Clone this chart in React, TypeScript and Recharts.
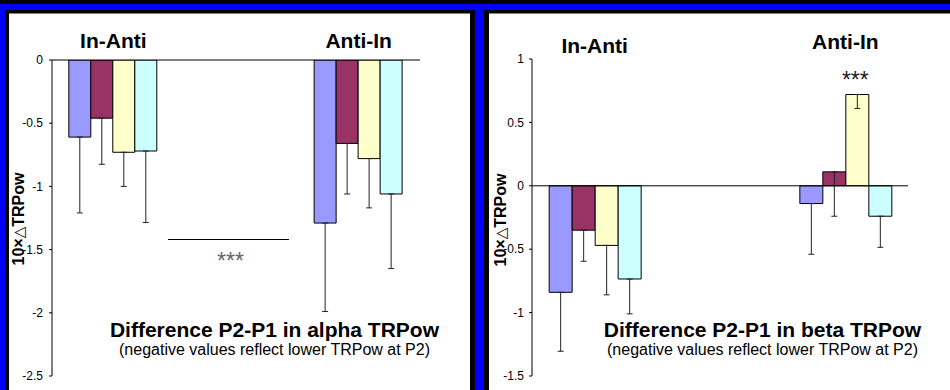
import React from 'react';
import { BarChart, Bar, XAxis, YAxis, ErrorBar, ReferenceLine, LabelList } from 'recharts';

// ---------- data ----------
const categories = ['In-Anti', '', 'Anti-In'];
const seriesKeys = ['c1', 'c2', 'c3', 'c4'];
const seriesColors = ['#9999FF', '#993366', '#FFFFCC', '#CCFFFF'];

// alpha TRPow difference (10×ΔTRPow)
const alphaInAnti = [-0.61, -0.46, -0.73, -0.72];
const alphaAntiIn = [-1.29, -0.66, -0.78, -1.06];
const alphaErrInAnti = [0.6, 0.365, 0.27, 0.565];
const alphaErrAntiIn = [0.7, 0.4, 0.39, 0.59];
const alphaTicks = [0, -0.5, -1, -1.5, -2, -2.5];
const alphaDomain = [-2.5, 0];
// significance bracket between groups (category-band units, value units)
const alphaSigFrom = 0.946;
const alphaSigTo = 1.932;
const alphaSigValue = -1.416;
const alphaSigText = '***';

// beta TRPow difference (10×ΔTRPow)
const betaInAnti = [-0.84, -0.35, -0.47, -0.735];
const betaAntiIn = [-0.14, 0.11, 0.72, -0.24];
const betaErrInAnti = [0.465, 0.245, 0.39, 0.275];
const betaErrAntiIn = [0.4, 0.35, 0.11, 0.245];
const betaTicks = [1, 0.5, 0, -0.5, -1, -1.5];
const betaDomain = [-1.5, 1];
const betaSigOnSeries3 = ['', '', '***'];

const alphaTitle = 'Difference P2-P1 in alpha TRPow';
const betaTitle = 'Difference P2-P1 in beta TRPow';
const subTitle = '(negative values reflect lower TRPow at P2)';
const yLabelMain = '10×';
const yLabelDelta = '△';
const yLabelTail = 'TRPow';

// ---------- helpers ----------
const FONT = '"Liberation Sans", Arial, Helvetica, sans-serif';

function buildRows(inAnti: number[], antiIn: number[], errIn: number[], errAnti: number[], sig3?: string[]) {
  return categories.map((cat, i) => {
    const row: any = { cat };
    const vals = i === 0 ? inAnti : i === 2 ? antiIn : null;
    const errs = i === 0 ? errIn : i === 2 ? errAnti : null;
    seriesKeys.forEach((k, j) => {
      row[k] = vals ? vals[j] : null;
      row[k + 'Err'] = errs ? [errs[j], 0] : null;
    });
    row.sig3 = sig3 ? sig3[i] : '';
    return row;
  });
}

const alphaRows = buildRows(alphaInAnti, alphaAntiIn, alphaErrInAnti, alphaErrAntiIn);
const betaRows = buildRows(betaInAnti, betaAntiIn, betaErrInAnti, betaErrAntiIn, betaSigOnSeries3);

const makeGroupTick = (lift: number[]) => (props: any) => {
  const { x, y, payload, index } = props;
  return (
    <text x={x} y={y - (lift[index] ?? 0)} textAnchor="middle" fontFamily={FONT} fontWeight="bold" fontSize={21} fill="#000">
      {payload.value}
    </text>
  );
};

// draws only the part of the full-width reference line between the two band positions
const renderBracket = (props: any) => {
  const { x1, x2, y1 } = props;
  const n = categories.length;
  const xa = x1 + ((x2 - x1) * alphaSigFrom) / n;
  const xb = x1 + ((x2 - x1) * alphaSigTo) / n;
  const yy = Math.round(y1) + 0.5;
  return (
    <g>
      <line x1={xa} x2={xb} y1={yy} y2={yy} stroke="#000" strokeWidth={1} />
      <text x={(xa + xb) / 2 + 2} y={yy + 29} textAnchor="middle" fontFamily={FONT} fontSize={23} fill="#666">
        {alphaSigText}
      </text>
    </g>
  );
};

const renderStarLabel = (props: any) => {
  const { x, y, width, value } = props;
  if (!value) return null;
  return (
    <text x={x + width / 2 - 2} y={y - 7} textAnchor="middle" fontFamily={FONT} fontSize={23} fill="#222">
      {value}
    </text>
  );
};

function Panel(props: {
  rows: any[];
  ticks: number[];
  domain: number[];
  rightMargin: number;
  topHeight: number;
  lift: number[];
  tickMargin: number;
  bracket?: boolean;
  stars?: boolean;
}) {
  const { rows, ticks, domain, rightMargin, topHeight, lift, tickMargin, bracket, stars } = props;
  return (
    <BarChart
      width={461}
      height={376}
      data={rows}
      margin={{ top: 0, right: rightMargin, bottom: 14, left: 0 }}
      barCategoryGap="13.7%"
      barGap={0}
    >
      <XAxis
        dataKey="cat"
        orientation="top"
        height={topHeight}
        axisLine={false}
        tickLine={false}
        tickSize={0}
        tickMargin={0}
        interval={0}
        tick={makeGroupTick(lift)}
      />
      <YAxis
        type="number"
        domain={domain}
        ticks={ticks}
        interval={0}
        allowDataOverflow
        width={43}
        tickSize={3}
        tickMargin={tickMargin}
        axisLine={{ stroke: '#000' }}
        tickLine={{ stroke: '#000' }}
        tick={{ fontSize: 12, fill: '#000', fontFamily: FONT }}
      />
      {seriesKeys.map((k, j) => (
        <Bar key={k} dataKey={k} fill={seriesColors[j]} stroke="#000" strokeWidth={1} isAnimationActive={false}>
          <ErrorBar dataKey={k + 'Err'} width={3} stroke="#222" strokeWidth={1} direction="y" isAnimationActive={false} />
          {stars && j === 2 ? <LabelList dataKey="sig3" content={renderStarLabel} /> : null}
        </Bar>
      ))}
      <ReferenceLine y={0} stroke="#000" strokeWidth={1} />
      {bracket ? <ReferenceLine y={alphaSigValue} stroke="#000" shape={renderBracket} /> : null}
    </BarChart>
  );
}

const abs = (l: number, t: number, w: number, h: number, bg: string): React.CSSProperties => ({
  position: 'absolute',
  left: l,
  top: t,
  width: w,
  height: h,
  background: bg,
});

function YLabel({ cx, cy }: { cx: number; cy: number }) {
  return (
    <text transform={`translate(${cx},${cy}) rotate(-90)`} y={5.8} textAnchor="middle" fontFamily={FONT} fontWeight="bold" fontSize={16} fill="#000">
      {yLabelMain}
      <tspan fontWeight="normal" fontFamily='"DejaVu Sans", sans-serif' fontSize={15}>{yLabelDelta}</tspan>
      {yLabelTail}
    </text>
  );
}

export default function App() {
  return (
    <div style={{ position: 'absolute', left: 0, top: 0, width: 950, height: 390, background: '#000', overflow: 'hidden' }}>
      <div style={abs(0, 4, 950, 6, '#0000FF')} />
      <div style={abs(0, 4, 5, 386, '#0000FF')} />
      <div style={abs(475, 4, 9, 386, '#0000FF')} />
      <div style={abs(9, 13, 461, 1, '#808080')} />
      <div style={abs(489, 13, 461, 1, '#808080')} />
      <div style={abs(9, 14, 461, 376, '#FFFFFF')}>
        <Panel rows={alphaRows} ticks={alphaTicks} domain={alphaDomain} rightMargin={50} topHeight={46} lift={[12, 12, 12]} tickMargin={6} bracket />
      </div>
      <div style={abs(489, 14, 461, 376, '#FFFFFF')}>
        <Panel rows={betaRows} ticks={betaTicks} domain={betaDomain} rightMargin={42} topHeight={45} lift={[6, 0, 10]} tickMargin={5} stars />
      </div>
      <svg width={950} height={390} style={{ position: 'absolute', left: 0, top: 0, pointerEvents: 'none' }}>
        <text x={274.5} y={337} textAnchor="middle" fontFamily={FONT} fontWeight="bold" fontSize={21} fill="#000">{alphaTitle}</text>
        <text x={274.5} y={355} textAnchor="middle" fontFamily={FONT} fontSize={16} fill="#000">{subTitle}</text>
        <text x={762.5} y={337} textAnchor="middle" fontFamily={FONT} fontWeight="bold" fontSize={21} fill="#000">{betaTitle}</text>
        <text x={762.5} y={355} textAnchor="middle" fontFamily={FONT} fontSize={16} fill="#000">{subTitle}</text>
        <YLabel cx={17.7} cy={219} />
        <YLabel cx={500} cy={220} />
      </svg>
    </div>
  );
}
